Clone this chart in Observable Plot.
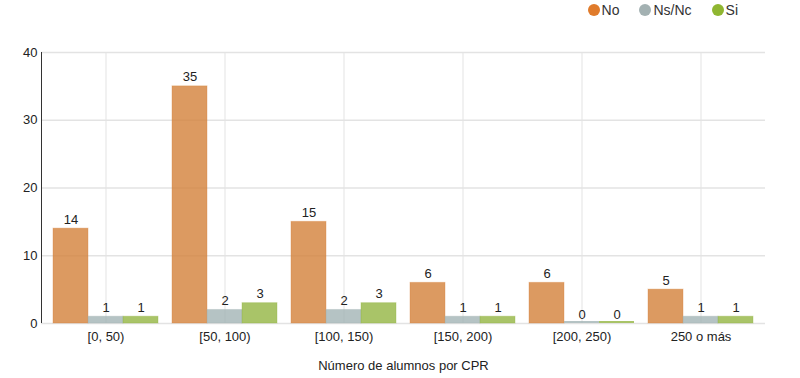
<!DOCTYPE html>
<html>
<head>
<meta charset="utf-8">
<script src="https://cdn.jsdelivr.net/npm/d3@7"></script>
<script src="https://cdn.jsdelivr.net/npm/@observablehq/plot@0.6"></script>
<style>
  html, body { margin: 0; padding: 0; background: #fff; }
  body { width: 800px; height: 378px; overflow: hidden; font-family: "Liberation Sans", Arial, sans-serif; }
  #legend { height: 20px; display: flex; justify-content: flex-end; align-items: center; padding-right: 62px; font-size: 14px; color: #333; }
  .item { display: flex; align-items: center; margin-left: 20px; }
  .sw { width: 12px; height: 12px; border-radius: 50%; margin-right: 2px; }
  #chart { position: relative; width: 800px; height: 358px; }
  #chart svg { position: absolute; left: 0; top: 0; display: block; }
</style>
</head>
<body>
<div id="legend"></div>
<div id="chart"></div>
<script>
const categories = ["[0, 50)", "[50, 100)", "[100, 150)", "[150, 200)", "[200, 250)", "250 o más"];
const series = ["No", "Ns/Nc", "Si"];
const noValues = [14, 35, 15, 6, 6, 5];
const nsncValues = [1, 2, 2, 1, 0, 1];
const siValues = [1, 3, 3, 1, 0, 1];
const yTicks = [0, 10, 20, 30, 40];
const xTitle = "Número de alumnos por CPR";
const legendColors = ["#e07b2b", "#a3b1b2", "#8fb631"];
const barColors = ["#d3813a", "#a2b4b5", "#93b542"];

const valuesBySeries = [noValues, nsncValues, siValues];
const data = [];
categories.forEach((c, i) => {
  series.forEach((s, j) => data.push({category: c, series: s, value: valuesBySeries[j][i]}));
});

const legend = document.getElementById("legend");
series.forEach((s, j) => {
  const it = document.createElement("div");
  it.className = "item";
  it.innerHTML = `<span class="sw" style="background:${legendColors[j]}"></span><span>${s}</span>`;
  legend.appendChild(it);
});

const frame = {
  width: 800,
  height: 358,
  marginTop: 32,
  marginLeft: 41,
  marginRight: 35,
  marginBottom: 55
};
const font = {fontFamily: "Liberation Sans, Arial, sans-serif", fontSize: "13px", color: "#222"};

// Background layer: y grid and y axis spanning the whole frame
const back = Plot.plot({
  ...frame,
  style: {...font, background: "white"},
  x: {domain: [0, 1], axis: null},
  y: {domain: [0, 40]},
  marks: [
    Plot.gridY(yTicks, {stroke: "#e3e3e3", strokeOpacity: 1, strokeWidth: 1.5}),
    Plot.axisY(yTicks, {tickSize: 0, tickPadding: 4, label: null, fontSize: 13}),
    Plot.ruleX([0], {stroke: "#333"})
  ]
});

// Foreground layer: grouped bars by category facets
const front = Plot.plot({
  ...frame,
  style: {...font, background: "transparent"},
  fx: {domain: categories, paddingInner: 0.1008, paddingOuter: 0.0924, label: null},
  x: {domain: series, padding: 0, axis: null},
  y: {domain: [0, 40], axis: null},
  color: {domain: series, range: barColors},
  marks: [
    Plot.gridFx({stroke: "#e3e3e3", strokeOpacity: 1}),
    Plot.barY(data, {fx: "category", x: "series", y: "value", fill: "series", fillOpacity: 0.8, stroke: "series", strokeOpacity: 0.35}),
    Plot.barY(data.filter(d => d.value === 0), {fx: "category", x: "series", y: "value", fill: "series", fillOpacity: 0.8, insetTop: -2}),
    Plot.text(data, {fx: "category", x: "series", y: "value", text: d => String(d.value), lineAnchor: "bottom", dy: -5, fontSize: 13, fill: "#222"}),
    Plot.axisFx({anchor: "bottom", tickSize: 0, tickPadding: 8, label: xTitle, labelAnchor: "center", labelArrow: "none", labelOffset: 46, fontSize: 13, fill: "#222"})
  ]
});

const chart = document.getElementById("chart");
chart.appendChild(back);
chart.appendChild(front);
</script>
</body>
</html>
